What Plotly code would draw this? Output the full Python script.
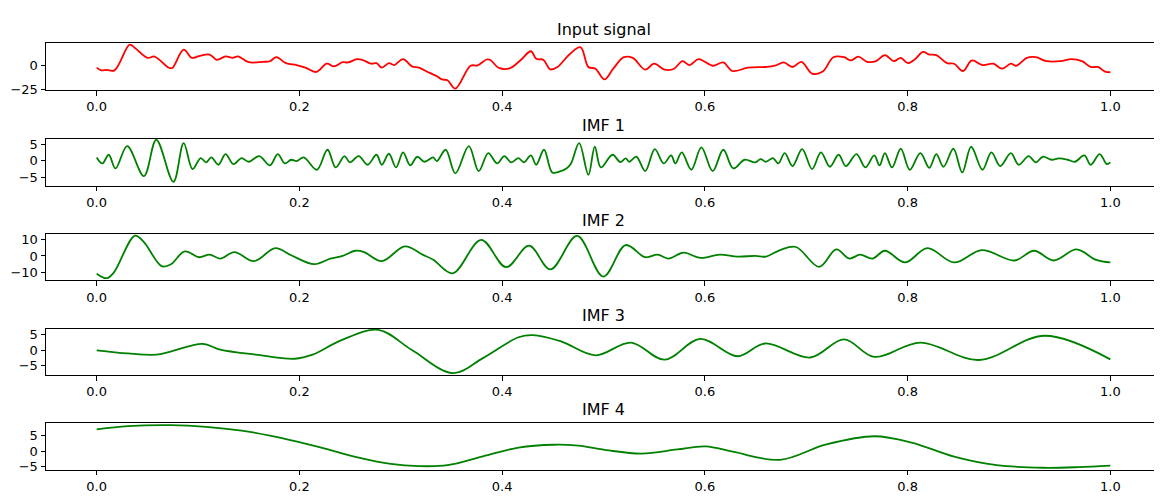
import plotly.graph_objects as go

# ---------------- data ----------------
t_input = [0.0, 0.0046, 0.0098, 0.0175, 0.0326, 0.0378, 0.0501, 0.0571, 0.0711, 0.0746,
           0.0858, 0.0939, 0.1009, 0.1114, 0.1184, 0.1271, 0.1342, 0.1394, 0.1499, 0.1639,
           0.1709, 0.1772, 0.1867, 0.1972, 0.2060, 0.2165, 0.2270, 0.2340, 0.2427, 0.2480,
           0.2567, 0.2620, 0.2708, 0.2760, 0.2813, 0.2883, 0.2935, 0.3023, 0.3110, 0.3180,
           0.3285, 0.3356, 0.3408, 0.3461, 0.3538, 0.3688, 0.3758, 0.3846, 0.3881, 0.3968,
           0.4074, 0.4179, 0.4284, 0.4336, 0.4406, 0.4476, 0.4546, 0.4669, 0.4774, 0.4851,
           0.4921, 0.5009, 0.5096, 0.5201, 0.5289, 0.5412, 0.5499, 0.5604, 0.5692, 0.5779,
           0.5849, 0.5937, 0.6077, 0.6182, 0.6270, 0.6427, 0.6602, 0.6690, 0.6778, 0.6865,
           0.6953, 0.7058, 0.7163, 0.7268, 0.7373, 0.7443, 0.7513, 0.7601, 0.7688, 0.7776,
           0.7863, 0.7933, 0.8004, 0.8074, 0.8151, 0.8214, 0.8284, 0.8389, 0.8459, 0.8546,
           0.8634, 0.8739, 0.8844, 0.8932, 0.9019, 0.9072, 0.9177, 0.9264, 0.9370, 0.9510,
           0.9615, 0.9720, 0.9807, 0.9877, 0.9947, 1.0]
v_input = [-2.7, -5.5, -5.0, -5.5, 21.2, 17.8, 7.5, 8.9, -2.7, -3.0,
           16.0, 7.5, 9.2, 11.0, 5.5, 9.0, 7.5, 9.0, 3.0, 3.4,
           4.0, 8.2, 2.0, 0.0, -2.7, -7.2, 1.4, -1.4, 3.0, 2.7,
           6.2, 5.5, 1.4, 2.0, -2.7, 2.0, 0.0, 6.2, -1.4, -2.7,
           -8.2, -11.6, -15.0, -15.8, -24.5, -0.7, -0.3, 5.8, 5.5, -3.0,
           -3.4, 4.8, 14.4, 6.5, 5.5, -4.5, -2.0, 11.6, 18.5, -2.0,
           -3.8, -15.0, -3.8, 8.2, 7.5, -4.8, 1.4, -4.8, -4.1, 4.1,
           0.0, 6.2, -0.7, 2.7, -6.2, -2.7, -2.0, -0.7, 2.7, -2.0,
           3.4, -8.9, -6.8, 8.2, 8.2, 4.8, 8.9, 3.4, 4.1, 10.3,
           4.1, 7.5, 2.0, 6.2, 13.7, 11.0, 10.3, 2.0, 1.4, -6.2,
           4.8, 0.0, 1.4, -3.8, 1.4, -0.7, 7.5, 8.2, 4.1, 4.1,
           6.2, 4.1, -2.0, -2.0, -6.8, -7.5]

t_imf1 = [0.0, 0.0056, 0.0119, 0.0186, 0.0301, 0.0466, 0.0588, 0.0757, 0.0858, 0.0946,
          0.1026, 0.1079, 0.1131, 0.1201, 0.1271, 0.1349, 0.1429, 0.1499, 0.1604, 0.1709,
          0.1786, 0.1856, 0.1919, 0.1972, 0.2042, 0.2172, 0.2277, 0.2358, 0.2445, 0.2498,
          0.2585, 0.2673, 0.2760, 0.2813, 0.2883, 0.2953, 0.3023, 0.3093, 0.3163, 0.3233,
          0.3320, 0.3356, 0.3443, 0.3538, 0.3671, 0.3769, 0.3863, 0.3951, 0.4021, 0.4091,
          0.4161, 0.4214, 0.4284, 0.4336, 0.4413, 0.4494, 0.4564, 0.4634, 0.4680, 0.4760,
          0.4851, 0.4914, 0.4974, 0.5089, 0.5166, 0.5219, 0.5254, 0.5324, 0.5412, 0.5506,
          0.5594, 0.5667, 0.5709, 0.5772, 0.5867, 0.5965, 0.6077, 0.6182, 0.6280, 0.6392,
          0.6497, 0.6550, 0.6602, 0.6672, 0.6725, 0.6788, 0.6865, 0.6960, 0.7058, 0.7145,
          0.7233, 0.7320, 0.7391, 0.7496, 0.7583, 0.7671, 0.7723, 0.7776, 0.7846, 0.7933,
          0.8021, 0.8126, 0.8214, 0.8284, 0.8354, 0.8452, 0.8539, 0.8627, 0.8739, 0.8827,
          0.8914, 0.9019, 0.9096, 0.9194, 0.9264, 0.9334, 0.9422, 0.9492, 0.9580, 0.9650,
          0.9744, 0.9807, 0.9895, 0.9965, 1.0]
v_imf1 = [1.0, -0.8, 1.8, -2.3, 4.4, -4.6, 6.3, -6.3, 5.3, -2.5,
          0.8, -0.5, 1.0, -1.2, 2.0, -1.0, 0.8, -0.3, 1.4, -1.4,
          2.0, -0.8, 0.3, -0.1, 1.0, -2.7, 3.3, -2.0, 1.4, -0.5,
          1.4, -1.2, 1.8, -1.2, 2.1, -2.0, 2.5, -1.4, 1.2, -0.3,
          1.0, -0.1, 3.3, -3.8, 4.4, -3.1, 2.3, -0.8, 1.4, -0.5,
          0.8, -0.5, 1.6, -1.2, 3.3, -3.5, -3.3, -2.3, -0.8, 5.3,
          -4.2, 4.2, -2.0, 1.8, -0.4, 0.7, -0.3, 1.2, -3.1, 3.5,
          -0.8, 1.6, -0.8, 2.5, -2.7, 4.0, -3.1, 3.3, -2.3, 0.3,
          -0.5, 0.5, -0.3, 0.8, -0.8, 2.3, -1.6, 3.5, -2.5, 2.5,
          -1.8, 1.8, -1.6, 2.0, -2.0, 1.6, -1.4, 2.3, -2.0, 3.6,
          -2.7, 2.3, -2.1, 2.0, -1.8, 3.6, -3.5, 4.2, -2.7, 2.5,
          -1.6, 2.3, -1.2, 1.4, -0.5, 1.2, 0.3, 0.7, 0.3, -0.3,
          1.6, -1.2, 2.0, -1.0, -0.5]

t_imf2 = [0.0, 0.0098, 0.0168, 0.0378, 0.0466, 0.0641, 0.0729, 0.0869, 0.1009, 0.1114,
          0.1219, 0.1359, 0.1552, 0.1762, 0.1919, 0.2147, 0.2305, 0.2427, 0.2550, 0.2638,
          0.2813, 0.3040, 0.3215, 0.3321, 0.3513, 0.3793, 0.4039, 0.4266, 0.4476, 0.4740,
          0.4998, 0.5219, 0.5412, 0.5534, 0.5639, 0.5790, 0.5954, 0.6147, 0.6322, 0.6497,
          0.6602, 0.6742, 0.6899, 0.7128, 0.7296, 0.7426, 0.7531, 0.7654, 0.7776, 0.7975,
          0.8196, 0.8459, 0.8732, 0.9054, 0.9247, 0.9440, 0.9667, 0.9860, 1.0]
v_imf2 = [-10.9, -13.7, -10.3, 12.5, 8.5, -6.3, -5.3, 2.8, -0.8, 0.8,
          -1.6, 2.4, -3.2, 4.8, 0.4, -5.1, -1.6, 0.0, 3.2, 2.4,
          -3.2, 5.9, 0.8, -2.4, -10.7, 9.9, -6.9, 6.3, -8.3, 12.3,
          -12.7, 6.7, -0.8, 0.8, -1.6, 2.0, -1.2, 0.8, -0.4, 0.0,
          -0.4, 3.6, 5.5, -6.7, 4.0, -1.6, 0.8, -1.6, 3.2, -4.0,
          4.8, -4.0, 3.6, -2.8, 3.2, -2.8, 4.0, -2.4, -4.0]

t_imf3 = [0.0, 0.0308, 0.0588, 0.0729, 0.1044, 0.1219, 0.1569, 0.1954, 0.2130, 0.2410,
          0.2778, 0.3110, 0.3513, 0.3811, 0.4161, 0.4301, 0.4581, 0.4921, 0.5271, 0.5604,
          0.5954, 0.6322, 0.6595, 0.7040, 0.7373, 0.7671, 0.8126, 0.8704, 0.9352, 1.0]
v_imf3 = [0.0, -1.0, -1.4, -0.4, 2.1, 0.2, -1.4, -2.7, -1.4, 3.2,
          6.6, 0.1, -7.3, -2.5, 4.2, 4.9, 2.9, -1.6, 2.5, -3.0,
          3.7, -1.9, 2.2, -2.3, 3.5, -2.1, 2.5, -3.1, 4.7, -2.9]

t_imf4 = [0.0, 0.0308, 0.0729, 0.1079, 0.1429, 0.1709, 0.1989, 0.2305, 0.2585, 0.2900,
          0.3180, 0.3461, 0.3811, 0.4161, 0.4511, 0.4750, 0.5026, 0.5377, 0.5727, 0.6007,
          0.6287, 0.6742, 0.7198, 0.7671, 0.8039, 0.8459, 0.8879, 0.9334, 0.9685, 1.0]
v_imf4 = [6.9, 7.9, 8.2, 7.7, 6.5, 4.9, 2.9, 0.3, -2.1, -4.1,
          -4.8, -4.5, -1.7, 1.1, 2.0, 1.7, 0.3, -0.8, 0.5, 1.5,
          -0.3, -2.8, 2.1, 4.7, 2.7, -1.8, -4.5, -5.3, -5.1, -4.6]

titles = ["Input signal", "IMF 1", "IMF 2", "IMF 3", "IMF 4"]
x_tickvals = [0.0, 0.2, 0.4, 0.6, 0.8, 1.0]
x_ticktext = ["0.0", "0.2", "0.4", "0.6", "0.8", "1.0"]
y_tickvals = [[-25, 0], [-5, 0, 5], [-10, 0, 10], [-5, 0, 5], [-5, 0, 5]]
y_ranges = [[-26.0, 22.6], [-7.5, 6.5], [-15.1, 13.6], [-8.0, 7.0], [-6.0, 8.8]]
series = [(t_input, v_input), (t_imf1, v_imf1), (t_imf2, v_imf2), (t_imf3, v_imf3), (t_imf4, v_imf4)]
colors = ["#ff0000", "#008000", "#008000", "#008000", "#008000"]

# ---------------- layout geometry ----------------
# the page adds an 8 px body margin, so the figure itself is offset by 8 px
OFF = 8
W, H = 1162 - OFF, 501 - OFF
ML = 46 - OFF
tops = [42 - OFF, 139.5 - OFF, 236 - OFF, 332.5 - OFF, 429 - OFF]
PH = 47.5
FONT = "DejaVu Sans"

fig = go.Figure()
layout = dict(
    width=W, height=H,
    margin=dict(l=ML, r=0, t=0, b=0),
    paper_bgcolor="white", plot_bgcolor="white",
    showlegend=False,
    font=dict(family=FONT, color="black", size=13),
    annotations=[],
)

for i in range(5):
    sfx = "" if i == 0 else str(i + 1)
    tx, vy = series[i]
    fig.add_trace(go.Scatter(
        x=tx, y=vy, mode="lines",
        line=dict(color=colors[i], width=1.8, shape="spline", smoothing=1.0),
        xaxis="x" + sfx, yaxis="y" + sfx, hoverinfo="skip"))
    y1 = 1 - tops[i] / H
    y0 = 1 - (tops[i] + PH) / H
    common = dict(showline=True, linecolor="black", linewidth=1, mirror=True,
                  showgrid=False, zeroline=False, ticks="outside", ticklen=4.5,
                  tickwidth=1, tickcolor="black",
                  tickfont=dict(family=FONT, size=13, color="black"))
    layout["xaxis" + sfx] = dict(domain=[0, 1], anchor="y" + sfx, range=[-0.05, 1.05],
                                 tickvals=x_tickvals, ticktext=x_ticktext, **common)
    layout["yaxis" + sfx] = dict(domain=[y0, y1], anchor="x" + sfx, range=y_ranges[i],
                                 tickvals=y_tickvals[i], **common)
    layout["annotations"].append(dict(
        text=titles[i], x=0.5, xref="paper", y=y1, yref="paper",
        xanchor="center", yanchor="bottom", yshift=2, showarrow=False,
        font=dict(family=FONT, size=16, color="black")))

fig.update_layout(**layout)
fig.write_html("out.html")
